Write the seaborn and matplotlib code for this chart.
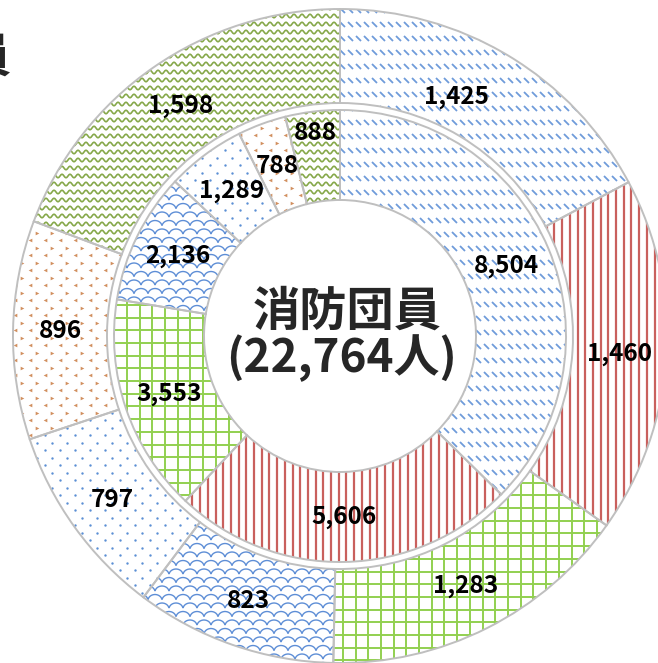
import numpy as np
import matplotlib
matplotlib.use('Agg')
import matplotlib.pyplot as plt
import seaborn as sns
from matplotlib.collections import LineCollection

# 内側：消防団員、外側：消防職員（7区分）
dan_in = [8504, 5606, 3553, 2136, 1289, 788, 888]
shoku_out = [1425, 1460, 1283, 823, 797, 896, 1598]
center_title = '消防団員'
pattern_kind = ['dashdiag', 'vline', 'grid', 'scale', 'dots', 'chevron', 'wave']
pattern_color = ['#6F9BDA', '#C9605D', '#92D050', '#5E8ED6', '#5B8FD5', '#C97B42', '#86A84A']

sns.set_theme(style='white')
plt.rcParams['font.family'] = ['Noto Sans CJK JP', 'DejaVu Sans']

# 画像上の中心と半径(px)
CX, CY, R = 340, 336, 327.0
W, H = 658, 663


def px(x, y):
    return ((x - CX) / R, (CY - y) / R)


def make_pattern(ax, kind, color, wedge):
    arts = []
    if kind == 'dashdiag':
        segs = [[px(x, y), px(x + 5, y + 5)]
                for y in np.arange(-20, H + 20, 14) for x in np.arange(-20, W + 20, 8)]
        arts.append(LineCollection(segs, colors=color, linewidths=1.3))
    elif kind == 'vline':
        segs = [[px(x, -20), px(x, H + 20)] for x in np.arange(0, W + 20, 7.7)]
        arts.append(LineCollection(segs, colors=color, linewidths=1.6))
    elif kind == 'grid':
        segs = [[px(x, -20), px(x, H + 20)] for x in np.arange(0, W + 20, 12.7)]
        segs += [[px(-20, y), px(W + 20, y)] for y in np.arange(0, H + 20, 12.7)]
        arts.append(LineCollection(segs, colors=color, linewidths=1.4))
    elif kind == 'scale':
        t = np.linspace(0.15, np.pi - 0.15, 14)
        segs = []
        for k, y in enumerate(np.arange(-20, H + 20, 8.5)):
            for x in np.arange(-20, W + 20, 14) + (k % 2) * 7:
                segs.append([px(x + 7 * np.cos(a), y - 6 * np.sin(a)) for a in t])
        arts.append(LineCollection(segs, colors=color, linewidths=1.0))
    elif kind == 'dots':
        pts = [px(x, y) for k, y in enumerate(np.arange(0, H + 10, 7.5))
               for x in np.arange(0, W + 10, 15) + (k % 2) * 7.5]
        pts = np.array(pts)
        arts.append(ax.scatter(pts[:, 0], pts[:, 1], s=3, color=color, linewidths=0))
    elif kind == 'chevron':
        for par, mk in [(0, '<'), (1, '>')]:
            pts = [px(x, y) for k, y in enumerate(np.arange(0, H + 10, 7.5)) if k % 2 == par
                   for x in np.arange(0, W + 10, 15) + par * 7.5]
            pts = np.array(pts)
            arts.append(ax.scatter(pts[:, 0], pts[:, 1], s=7, marker=mk, color=color,
                                   linewidths=0, alpha=0.85))
    elif kind == 'wave':
        xs = np.arange(-20, W + 20, 1.0)
        segs = [[px(x, y + 1.8 * np.sin(2 * np.pi * x / 8)) for x in xs]
                for y in np.arange(0, H + 20, 8)]
        arts.append(LineCollection(segs, colors=color, linewidths=1.2))
    for a in arts:
        if isinstance(a, LineCollection):
            ax.add_collection(a)
        a.set_zorder(2)
        a.set_clip_path(wedge)


fig = plt.figure(figsize=(W / 100, H / 100), dpi=100)
ax = fig.add_axes([0, 0, 1, 1])

r_out, w_out = 1.0, 1.0 - 233 / R
r_in, w_in = 226 / R, (226 - 136) / R
edge = dict(edgecolor='#BFBFBF', linewidth=1.4, facecolor='none')

wedges_out, _ = ax.pie(shoku_out, radius=r_out, startangle=90, counterclock=False,
                       wedgeprops=dict(width=w_out, **edge))
wedges_in, _ = ax.pie(dan_in, radius=r_in, startangle=90, counterclock=False,
                      wedgeprops=dict(width=w_in, **edge))

for wedges in (wedges_out, wedges_in):
    for wd, kind, col in zip(wedges, pattern_kind, pattern_color):
        wd.set_zorder(3)
        make_pattern(ax, kind, col, wd)

# ラベル（中央角、リング中央）。一部は手動で位置調整されている
label_shift_out = {0: (-5, 266 / R)}
label_shift_in = {6: (0, 205 / R)}


def put_labels(wedges, vals, rad, shifts):
    for i, (wd, v) in enumerate(zip(wedges, vals)):
        ang = (wd.theta1 + wd.theta2) / 2
        rr = rad
        if i in shifts:
            ang -= shifts[i][0]
            rr = shifts[i][1]
        x, y = rr * np.cos(np.deg2rad(ang)), rr * np.sin(np.deg2rad(ang))
        ax.text(x, y, f'{v:,}', ha='center', va='center', fontsize=17.5,
                fontweight='bold', color='black', zorder=5)


put_labels(wedges_out, shoku_out, (280 / R), label_shift_out)
put_labels(wedges_in, dan_in, (181 / R), label_shift_in)

# 中央の文字
ax.text(*px(347, 312), center_title, ha='center', va='center', fontsize=34,
        fontweight='bold', zorder=5)
ax.text(*px(342, 358), f'({sum(dan_in):,}人)', ha='center', va='center', fontsize=33,
        fontweight='bold', zorder=5)
# 左上の見切れたタイトル
ax.text(*px(11, 58), '員', ha='right', va='center', fontsize=34, fontweight='bold',
        zorder=5, clip_on=False)

ax.set_xlim(-CX / R, (W - CX) / R)
ax.set_ylim(-(H - CY) / R, CY / R)
ax.set_aspect('auto')
ax.axis('off')

fig.savefig('out.png', dpi=100, facecolor='white')
